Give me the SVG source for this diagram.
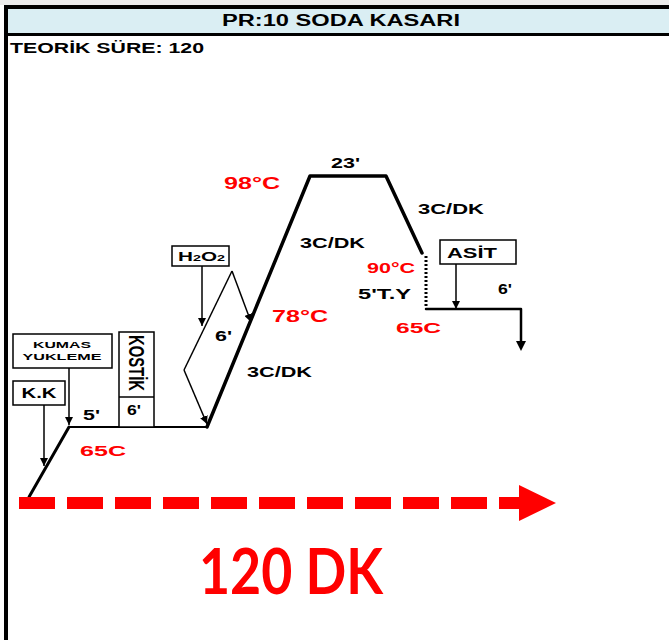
<svg xmlns="http://www.w3.org/2000/svg" width="669" height="640" viewBox="0 0 669 640">
<style>
.t{font-family:"Liberation Sans",Arial,sans-serif;font-weight:bold;fill:#000}
.r{fill:#ff0000}
.box{fill:#fff;stroke:#000;stroke-width:1.5}
.ln{fill:none;stroke:#000;stroke-linecap:round;stroke-linejoin:round}
.ar{fill:none;stroke:#000;stroke-width:1.5}
</style>
<defs>
<marker id="ah" viewBox="0 0 10 10" refX="10" refY="5" markerWidth="8" markerHeight="8" markerUnits="userSpaceOnUse" orient="auto">
<path d="M0,0 L10,5 L0,10 Z" fill="#000"/>
</marker>
</defs>
<rect x="0" y="0" width="669" height="640" fill="#fff"/>
<rect x="0" y="0" width="669" height="5" fill="#ececec"/>
<g id="header">
<rect x="4" y="5" width="665" height="30" fill="#daeef3"/>
<rect x="4" y="5" width="665" height="4" fill="#000"/>
<rect x="4" y="33" width="665" height="3" fill="#000"/>
<rect x="4" y="5" width="4" height="635" fill="#000"/>
<text class="t" x="222" y="26" font-size="16" textLength="238" lengthAdjust="spacingAndGlyphs">PR:10 SODA KASARI</text>
<text class="t" x="10" y="53" font-size="14" textLength="194" lengthAdjust="spacingAndGlyphs">TEORİK SÜRE: 120</text>
</g>
<g id="connectors">
<path class="ln" stroke-width="3" d="M29,497 L69,427"/>
<path class="ln" stroke-width="2" d="M69,427 L207,427"/>
<path class="ln" stroke-width="3.5" d="M207,427 L310,176 L386,176 L422,253"/>
<path fill="none" stroke="#000" stroke-width="3" stroke-dasharray="2,2" d="M426,256 L426,308"/>
<path class="ln" stroke-width="2.5" d="M426,309 L521,309 L521,342"/>
<path d="M516,341 L526,341 L521,351 Z" fill="#000"/>
<path class="ar" d="M44,405 L44,466" marker-end="url(#ah)"/>
<path class="ar" d="M69,368 L69,425" marker-end="url(#ah)"/>
<path class="ar" d="M202,266 L202,326" marker-end="url(#ah)"/>
<path class="ar" d="M456,264 L456,309" marker-end="url(#ah)"/>
<path class="ar" d="M232,271 L184,370"/>
<path class="ar" d="M232,271 L251,322" marker-end="url(#ah)"/>
<path class="ar" d="M184,370 L207,424" marker-end="url(#ah)"/>
<path fill="none" stroke="#ff0000" stroke-width="12" stroke-dasharray="36,12" d="M19,503 L520,503"/>
<path d="M519,485 L556,503 L519,521 Z" fill="#ff0000"/>
</g>
<g id="kk">
<rect class="box" x="13" y="381" width="52" height="24"/>
<text class="t" x="39" y="398" font-size="14" text-anchor="middle" textLength="35" lengthAdjust="spacingAndGlyphs">K.K</text>
</g>
<g id="kumas">
<rect class="box" x="13" y="334" width="99" height="34"/>
<text class="t" x="62" y="348" font-size="9.5" text-anchor="middle" textLength="58" lengthAdjust="spacingAndGlyphs">KUMAS</text>
<text class="t" x="62" y="360" font-size="9.5" text-anchor="middle" textLength="79" lengthAdjust="spacingAndGlyphs">YUKLEME</text>
</g>
<g id="kostik">
<rect class="box" x="119" y="332" width="35" height="95"/>
<line x1="119" y1="397" x2="154" y2="397" stroke="#000" stroke-width="1.5"/>
<text class="t" transform="translate(129,363) rotate(90)" x="0" y="0" font-size="22" text-anchor="middle" textLength="56" lengthAdjust="spacingAndGlyphs">KOSTİK</text>
<text class="t" x="127" y="415" font-size="15" textLength="14" lengthAdjust="spacingAndGlyphs">6'</text>
</g>
<g id="h2o2">
<rect class="box" x="172" y="246" width="57" height="20"/>
<text class="t" x="178" y="261" font-size="13" textLength="47" lengthAdjust="spacingAndGlyphs">H<tspan font-size="9">2</tspan>O<tspan font-size="9">2</tspan></text>
</g>
<g id="asit">
<rect class="box" x="440" y="240" width="76" height="24"/>
<text class="t" x="447" y="258" font-size="15" textLength="50" lengthAdjust="spacingAndGlyphs">ASİT</text>
</g>
<g id="labels">
<text class="t" x="83" y="420" font-size="14" textLength="17" lengthAdjust="spacingAndGlyphs">5'</text>
<text class="t r" x="80" y="456" font-size="15" textLength="46" lengthAdjust="spacingAndGlyphs">65C</text>
<text class="t" x="215" y="341" font-size="14" textLength="17" lengthAdjust="spacingAndGlyphs">6'</text>
<text class="t" x="247" y="377" font-size="14" textLength="65" lengthAdjust="spacingAndGlyphs">3C/DK</text>
<text class="t r" x="272" y="322" font-size="16" textLength="56" lengthAdjust="spacingAndGlyphs">78°C</text>
<text class="t" x="300" y="248" font-size="14" textLength="65" lengthAdjust="spacingAndGlyphs">3C/DK</text>
<text class="t r" x="224" y="189" font-size="16" textLength="56" lengthAdjust="spacingAndGlyphs">98°C</text>
<text class="t" x="331" y="168" font-size="14" textLength="29" lengthAdjust="spacingAndGlyphs">23'</text>
<text class="t" x="418" y="214" font-size="14" textLength="66" lengthAdjust="spacingAndGlyphs">3C/DK</text>
<text class="t r" x="367" y="273" font-size="15" textLength="48" lengthAdjust="spacingAndGlyphs">90°C</text>
<text class="t" x="358" y="299" font-size="14" textLength="53" lengthAdjust="spacingAndGlyphs">5'T.Y</text>
<text class="t r" x="396" y="333" font-size="15" textLength="45" lengthAdjust="spacingAndGlyphs">65C</text>
<text class="t" x="498" y="294" font-size="14" textLength="14" lengthAdjust="spacingAndGlyphs">6'</text>
<text x="199" y="594" font-family="Lato,'Open Sans',sans-serif" font-weight="bold" font-size="63" fill="#ff0000" textLength="184" lengthAdjust="spacingAndGlyphs">120 DK</text>
</g>
</svg>
